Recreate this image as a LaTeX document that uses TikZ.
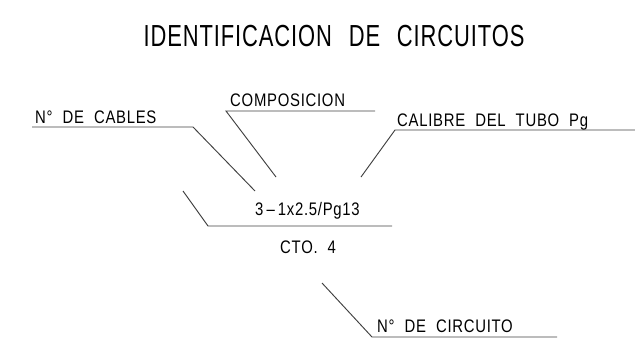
\documentclass[tikz,border=0pt]{standalone}
\usepackage{fontspec}
\setmainfont{Liberation Sans}[FakeStretch=0.82, LetterSpace=4]
\usetikzlibrary{positioning}
\newcommand{\wgap}{\hspace{0.55em}}

\begin{document}
\begin{tikzpicture}[
    x=0.03cm, y=-0.03cm,
    tag/.style={anchor=base west, inner sep=0pt, font=\fontsize{15.5}{16}\selectfont},
    leader/.style={draw=black!75, line width=0.8pt}
]
\useasboundingbox (0,0) rectangle (635,360);
\node[anchor=base, inner sep=0pt, font=\fontsize{26}{28}\selectfont\addfontfeatures{FakeStretch=0.72, LetterSpace=3}] (title) at (334,46) {IDENTIFICACION\wgap DE\wgap CIRCUITOS};
% labels
\node[tag] (cables) at (35,123) {N°\wgap DE\wgap CABLES};
\node[tag] (compo) at (230,106) {COMPOSICION};
\node[tag] (calibre) at (397,126) {CALIBRE\wgap DEL\wgap TUBO\wgap Pg};
\node[tag] (spec) at (255,215) {3\,–\,1x2.5/Pg13};
\node[tag] (cto) at (280,253) {CTO.\wgap 4};
\node[tag] (circ) at (377,332) {N°\wgap DE\wgap CIRCUITO};
% leader end points
\coordinate (cablesA) at (32,127);
\coordinate (cablesB) at (193,127);
\coordinate (cablesC) at (255,191);
\coordinate (compoA) at (375,111);
\coordinate (compoB) at (226,111);
\coordinate (compoC) at (276,177);
\coordinate (calibreA) at (635,130);
\coordinate (calibreB) at (395,130);
\coordinate (calibreC) at (361,177);
\coordinate (specA) at (392,226);
\coordinate (specB) at (208,226);
\coordinate (specC) at (183,191);
\coordinate (circA) at (557,337);
\coordinate (circB) at (372,337);
\coordinate (circC) at (322,283);
\draw[leader] (cablesA) -- (cablesB) -- (cablesC);
\draw[leader] (compoA) -- (compoB) -- (compoC);
\draw[leader] (calibreA) -- (calibreB) -- (calibreC);
\draw[leader] (specA) -- (specB) -- (specC);
\draw[leader] (circA) -- (circB) -- (circC);
\end{tikzpicture}
\end{document}
